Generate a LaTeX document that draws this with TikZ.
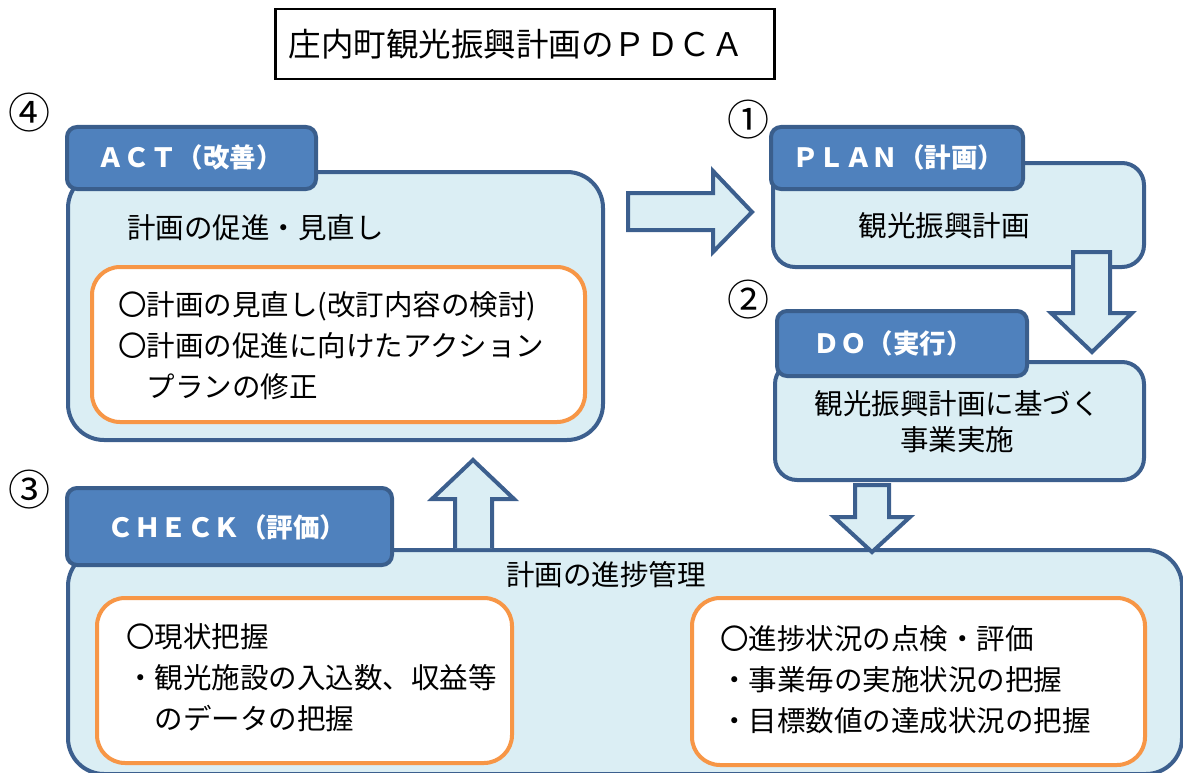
\documentclass[tikz,border=0pt]{standalone}
\usepackage{fontspec}
\setmainfont{Noto Sans CJK JP}
\definecolor{lightfill}{HTML}{DBEEF4}
\definecolor{darkline}{HTML}{3C5F8E}
\definecolor{tabfill}{HTML}{4F81BD}
\definecolor{tabline}{HTML}{3A5E8C}
\definecolor{orangeline}{HTML}{F79646}
\tikzset{
  bigbox/.style={draw=darkline, fill=lightfill, line width=4pt, rounded corners=36pt, anchor=north west, inner sep=0pt},
  tabbox/.style={draw=tabline, fill=tabfill, line width=4pt, rounded corners=10pt, anchor=north west, inner sep=0pt},
  innerbox/.style={draw=orangeline, fill=white, line width=4pt, rounded corners=28pt, anchor=north west, inner sep=0pt},
  blockarrow/.style={draw=darkline, fill=lightfill, line width=4pt, line join=miter},
  tabtext/.style={text=white, font=\fontsize{26.5}{30}\selectfont\bfseries, inner sep=0pt},
  bodytext/.style={font=\fontsize{28.5}{36}\selectfont, inner sep=0pt},
  listtext/.style={font=\fontsize{28.5}{41}\selectfont, inner sep=0pt, align=left, anchor=north west},
  numtext/.style={font=\fontsize{42}{44}\selectfont, inner sep=0pt},
}
\begin{document}
\begin{tikzpicture}[x=1pt,y=-1pt]
\useasboundingbox (0,0) rectangle (1183,773);
\clip (0,0) rectangle (1183,773);

% title
\node[draw=black, line width=2.5pt, anchor=north west, minimum width=499pt, minimum height=70pt, inner sep=0pt] (title) at (274,8) {};
\node[font=\fontsize{32.5}{36}\selectfont, inner sep=0pt] (titletext) at (516,44) {庄内町観光振興計画のＰＤＣＡ};

% ACT
\node[bigbox, minimum width=535pt, minimum height=268pt] (actbox) at (66,170) {};
\node[tabbox, minimum width=249pt, minimum height=62pt] (acttab) at (65,125) {};
\node[tabtext] (acttext) at (190,157) {ＡＣＴ（改善）};
\node[numtext] (n4) at (30,113) {④};
\node[bodytext, anchor=west] (actsub) at (127,228) {計画の促進・見直し};
\node[innerbox, minimum width=493pt, minimum height=155pt] (actinner) at (90,265) {};
\node[listtext] (actlist) at (118,291) {〇計画の見直し(改訂内容の検討)\\〇計画の促進に向けたアクション\\　プランの修正};

% PLAN
\node[bigbox, rounded corners=22pt, minimum width=371pt, minimum height=104pt] (planbox) at (771,161) {};
\node[tabbox, minimum width=252pt, minimum height=62pt] (plantab) at (769,125) {};
\node[tabtext] (plantext) at (898,157) {ＰＬＡＮ（計画）};
\node[numtext] (n1) at (748,120) {①};
\node[bodytext] (plansub) at (944,226) {観光振興計画};

% DO
\node[bigbox, rounded corners=22pt, minimum width=369pt, minimum height=118pt] (dobox) at (773,360) {};
\node[tabbox, minimum width=250pt, minimum height=65pt] (dotab) at (775,309) {};
\node[tabtext] (dotext) at (893,343) {ＤＯ（実行）};
\node[numtext] (n2) at (748,300) {②};
\node[bodytext, align=center] (dosub) at (957,422) {観光振興計画に基づく\\事業実施};

% CHECK
\node[bigbox, minimum width=1114pt, minimum height=224pt] (checkbox) at (66,548) {};
\node[tabbox, minimum width=325pt, minimum height=77pt] (checktab) at (65,486) {};
\node[tabtext] (checktext) at (227,527) {ＣＨＥＣＫ（評価）};
\node[numtext] (n3) at (30,490) {③};
\node[bodytext] (checksub) at (606,575) {計画の進捗管理};
\node[innerbox, minimum width=415pt, minimum height=165pt] (checkleft) at (95,596) {};
\node[listtext] (leftlist) at (126,623) {〇現状把握\\・観光施設の入込数、収益等\\　のデータの把握};
\node[innerbox, minimum width=453pt, minimum height=167pt] (checkright) at (690,596) {};
\node[listtext] (rightlist) at (720,625) {〇進捗状況の点検・評価\\・事業毎の実施状況の把握\\・目標数値の達成状況の把握};

% block arrows
% ACT -> PLAN
\draw[blockarrow] (628,193) -- (713,193) -- (713,171) -- (752,212) -- (713,252) -- (713,230) -- (628,230) -- cycle;
% PLAN -> DO
\draw[blockarrow] (1073,252) -- (1110,252) -- (1110,313) -- (1132,313) -- (1092,352) -- (1051,313) -- (1073,313) -- cycle;
% DO -> CHECK
\draw[blockarrow] (855,485) -- (889,485) -- (889,517) -- (910,517) -- (872,552) -- (834,517) -- (855,517) -- cycle;
% CHECK -> ACT
\draw[blockarrow] (455,548) -- (455,499) -- (432,499) -- (473,460) -- (514,499) -- (492,499) -- (492,548);
\end{tikzpicture}
\end{document}
